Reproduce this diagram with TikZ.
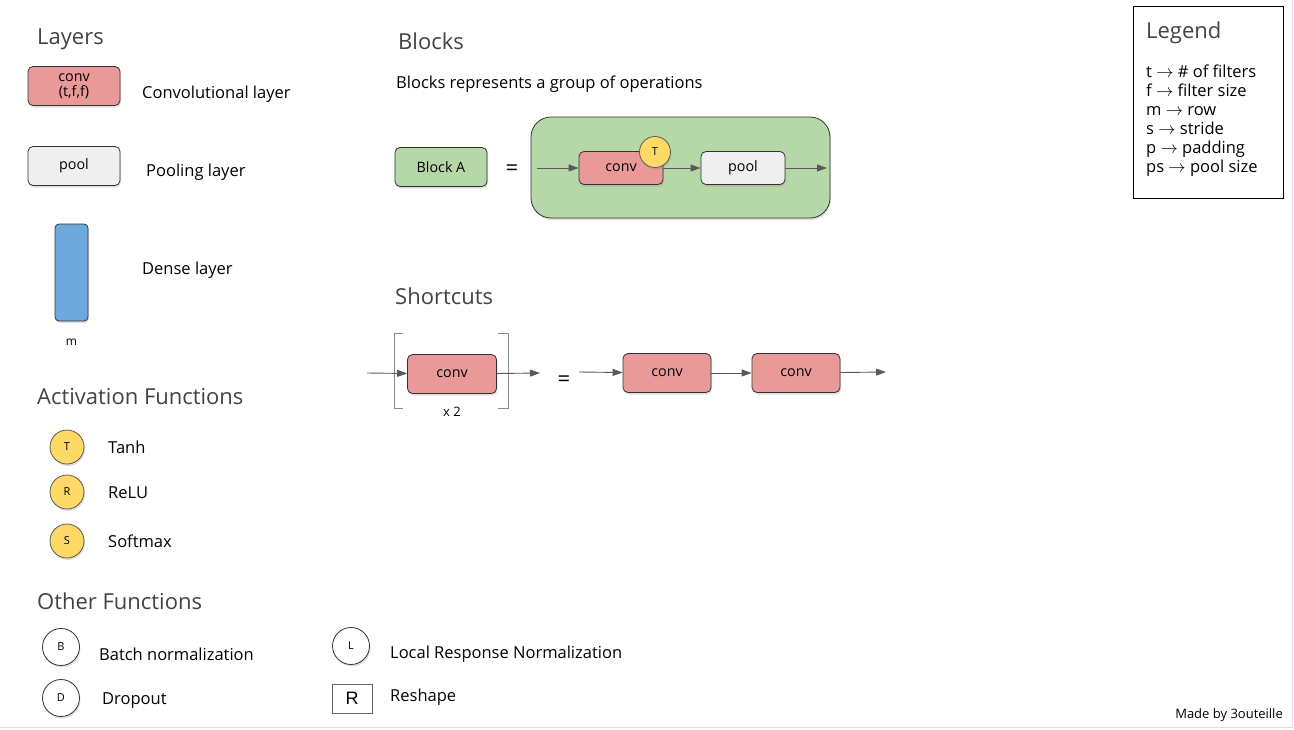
\documentclass[tikz,border=0pt]{standalone}
\usepackage{fontspec}
\setmainfont{Open Sans}
\newfontfamily\arialfont{Liberation Sans}
\usetikzlibrary{positioning,arrows.meta,shadows}

\definecolor{convred}{HTML}{EA9999}
\definecolor{poolgray}{HTML}{EFEFEF}
\definecolor{denseblue}{HTML}{6FA8DC}
\definecolor{actyellow}{HTML}{FFD966}
\definecolor{blockgreen}{HTML}{B6D7A8}
\definecolor{headgray}{HTML}{434343}
\definecolor{arrowgray}{HTML}{595959}

\begin{document}
\begin{tikzpicture}[x=1pt,y=-1pt,
    shade/.style={drop shadow={opacity=0.25,shadow xshift=1pt,shadow yshift=-2pt}},
    layer/.style={draw=black!80,line width=0.8pt,rounded corners=5pt,minimum width=92pt,minimum height=39pt,inner sep=1pt,align=center,font=\fontsize{14.3}{15}\selectfont,shade},
    convlayer/.style={layer,fill=convred},
    poollayer/.style={layer,fill=poolgray},
    act/.style={circle,draw=black!65,line width=0.8pt,fill=actyellow,minimum size=34pt,inner sep=0pt,font=\fontsize{11}{11}\selectfont,shade},
    fun/.style={circle,draw=black!80,line width=0.8pt,fill=white,minimum size=37pt,inner sep=0pt,font=\fontsize{11}{11}\selectfont,shade},
    heading/.style={anchor=west,inner sep=0pt,yshift=-1pt,text=headgray,font=\fontsize{22}{26}\selectfont},
    txt/.style={anchor=west,inner sep=0pt,yshift=-1.5pt,font=\fontsize{16.5}{19}\selectfont},
    flow/.style={arrowgray,line width=0.9pt,-{Triangle[length=10pt,width=7pt]}}]
    \useasboundingbox (0,0) rectangle (1294,729);
    % page edge
    \draw[black!12,line width=1.5pt] (0,727.5) -- (1292.5,727.5) -- (1292.5,0);

    % layers
    \node[heading] (layershead) at (37,38) {Layers};
    \node[convlayer] (convkey) at (74,86) {conv\\(t,f,f)};
    \node[txt] (convlbl) at (142,93) {Convolutional layer};
    \node[poollayer] (poolkey) at (74,166) {pool};
    \node[txt] (poollbl) at (146,171) {Pooling layer};
    \node[layer,fill=denseblue,minimum width=33pt,minimum height=97pt,rounded corners=4pt] (densekey) at (71.5,272.5) {};
    \node[font=\fontsize{12}{13}\selectfont,below=14pt of densekey] (denserow) {m};
    \node[txt] (denselbl) at (142,269) {Dense layer};

    % activation functions
    \node[heading] (acthead) at (37,396) {Activation Functions};
    \node[act] (tanhkey) at (67,447) {T};
    \node[txt] (tanhlbl) at (108,446) {Tanh};
    \node[act] (relukey) at (67,492) {R};
    \node[txt] (relulbl) at (108,491) {ReLU};
    \node[act] (softkey) at (67,541) {S};
    \node[txt] (softlbl) at (108,540) {Softmax};

    % other functions
    \node[heading] (otherhead) at (37,600) {Other Functions};
    \node[fun] (bnkey) at (61,647) {B};
    \node[txt] (bnlbl) at (99,653) {Batch normalization};
    \node[fun] (dropkey) at (61,698) {D};
    \node[txt] (droplbl) at (102,699) {Dropout};
    \node[fun] (lrnkey) at (351,646) {L};
    \node[txt] (lrnlbl) at (390,653) {Local Response Normalization};
    \node[draw=black!60,line width=0.9pt,minimum width=40pt,minimum height=29pt,inner sep=0pt,font=\arialfont\fontsize{18}{18}\selectfont] (reshapekey) at (352,698.5) {R};
    \node[txt] (reshapelbl) at (390,696) {Reshape};

    % blocks
    \node[heading] (blockhead) at (398,40) {Blocks};
    \node[txt] (blockdesc) at (396,83) {Blocks represents a group of operations};
    \node[layer,fill=blockgreen] (blocka) at (441,167) {Block A};
    \node[font=\fontsize{22}{22}\selectfont] (blockeq) at (512,170) {=};
    \node[draw=black!80,line width=0.8pt,fill=blockgreen,rounded corners=20pt,minimum width=299pt,minimum height=101pt,shade] (blockbody) at (680.5,167.5) {};
    \coordinate (blockin) at (537,168);
    \coordinate (blockout) at (827,168);
    \node[convlayer,minimum width=84pt,minimum height=33pt] (blockconv) at (621,168) {conv};
    \node[poollayer,minimum width=84pt,minimum height=33pt] (blockpool) at (743,168) {pool};
    \draw[flow] (blockin) -- (blockconv);
    \draw[flow] (blockconv) -- (blockpool);
    \draw[flow] (blockpool) -- (blockout);
    \node[act,minimum size=31pt] (blocktanh) at (655,152) {T};

    % shortcuts
    \node[heading] (shorthead) at (395,295) {Shortcuts};
    \node[convlayer,minimum width=89pt] (repconv) at (452,374) {conv};
    \draw[black!45,line width=0.9pt] (403,333) -- (394,333) -- (394,408) -- (403,408);
    \draw[black!45,line width=0.9pt] (498,333) -- (508,333) -- (508,408) -- (498,408);
    \coordinate (repin) at (367,373);
    \coordinate (repout) at (540,373);
    \draw[flow] (repin) -- (repconv);
    \draw[flow] (repconv) -- (repout);
    \node[font=\fontsize{13}{13}\selectfont] (reptimes) at (452,412) {x 2};
    \node[font=\fontsize{22}{22}\selectfont] (repeq) at (564,381) {=};
    \node[convlayer,minimum width=88pt] (convone) at (667,373) {conv};
    \node[convlayer,minimum width=88pt] (convtwo) at (796,373) {conv};
    \coordinate (unrollin) at (579,372);
    \coordinate (unrollout) at (886,372);
    \draw[flow] (unrollin) -- (convone);
    \draw[flow] (convone) -- (convtwo);
    \draw[flow] (convtwo) -- (unrollout);

    % legend
    \node[draw=black,line width=1pt,minimum width=150pt,minimum height=192pt] (legendbox) at (1208,102) {};
    \node[heading] (legendhead) at (1146,32) {Legend};
    \foreach \ltxt [count=\i from 0] in {t $\to$ \# of filters, f $\to$ filter size, m $\to$ row, s $\to$ stride, p $\to$ padding, ps $\to$ pool size}
        \node[txt,text height=12pt,text depth=4pt] (legend\i) at (1146,72+19*\i) {\ltxt};

    % credit
    \node[anchor=east,inner sep=0pt,font=\fontsize{13}{14}\selectfont] (credit) at (1283,715) {Made by 3outeille};
\end{tikzpicture}
\end{document}
